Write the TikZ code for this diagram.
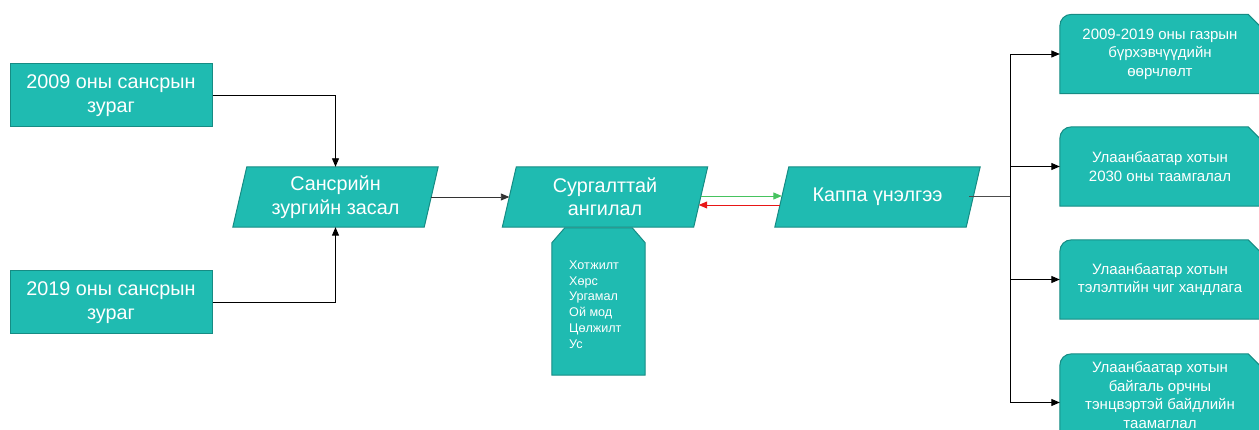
\documentclass[tikz,border=0pt]{standalone}
\usepackage{fontspec}
\setmainfont{Liberation Sans}
\usetikzlibrary{arrows.meta,backgrounds,calc}
\definecolor{tealfill}{RGB}{31,187,177}
\definecolor{tealline}{RGB}{22,140,132}
\definecolor{arrgreen}{RGB}{70,195,95}
\definecolor{arrred}{RGB}{232,22,22}
\begin{document}
\begin{tikzpicture}[x=1pt,y=-1pt,
  txt/.style={text=white, align=center, inner sep=0pt, font=\fontsize{19.8}{23.5}\selectfont},
  rtxt/.style={text=white, align=center, inner sep=0pt, font=\fontsize{15}{18.5}\selectfont},
  listtxt/.style={text=white, align=left, inner sep=0pt, font=\fontsize{12.6}{15.8}\selectfont},
  shapebox/.style={fill=tealfill, draw=tealline, line width=1pt},
  tip/.style={-{Triangle[length=8.5pt,width=7pt]}},
  conn/.style={tip, line width=0.9pt, draw=black},
  gconn/.style={tip, line width=0.9pt, draw=arrgreen, color=arrgreen},
  rconn/.style={tip, line width=0.9pt, draw=arrred, color=arrred},
  trunk/.style={line width=1pt, draw=black!70},
  para/.style={txt, minimum width=191pt, minimum height=60pt},
  rbox/.style={rtxt, minimum width=200pt, minimum height=79pt}
]
\useasboundingbox (0,0) rectangle (1259,430);
\clip (0,0) rectangle (1259,430);

% left boxes
\node[txt, shapebox, minimum width=202pt, minimum height=63pt] (a1) at (111,95.5) {2009 оны сансрын\\зураг};
\node[txt, shapebox, minimum width=202pt, minimum height=63pt] (a2) at (111,302.5) {2019 оны сансрын\\зураг};

% parallelograms
\node[para] (p1) at (335.5,197) {Сансрийн\\зургийн засал};
\node[para] (p2) at (605,197) {Сургалттай\\ангилал};
\node[para] (p3) at (877.5,197) {Каппа үнэлгээ};

% list
\node[minimum width=93pt, minimum height=147pt, inner sep=0pt] (l) at (598.5,301.5) {};
\node[listtxt, anchor=west] (lt) at (569,304.5) {Хотжилт\\Хөрс\\Ургамал\\Ой мод\\Цөлжилт\\Ус};

% right boxes
\node[rbox] (r1) at (1160,54) {2009-2019 оны газрын\\бүрхэвчүүдийн\\өөрчлөлт};
\node[rbox] (r2) at (1160,166.5) {Улаанбаатар хотын\\2030 оны таамгалал};
\node[rbox] (r3) at (1160,279.5) {Улаанбаатар хотын\\тэлэлтийн чиг хандлага};
\node[rtxt, minimum width=200pt, minimum height=82pt] (r4) at (1160,395) {Улаанбаатар хотын\\байгаль орчны\\тэнцвэртэй байдлийн\\таамаглал};

\begin{pgfonlayer}{background}
  \path[shapebox] (l.south west) -- ($(l.north west)+(0,15)$) -- ($(l.north west)+(13,0)$)
     -- ($(l.north east)+(-13,0)$) -- ($(l.north east)+(0,15)$) -- (l.south east) -- cycle;
  \foreach \n in {p1,p2,p3} {
    \path[shapebox] ($(\n.north west)+(7,0)$) -- ($(\n.north east)+(7,0)$)
       -- ($(\n.south east)+(-7,0)$) -- ($(\n.south west)+(-7,0)$) -- cycle;
  }
  \foreach \n in {r1,r2,r3,r4} {
    \path[shapebox] (\n.south west) -- ($(\n.north west)+(0,12)$)
       .. controls ($(\n.north west)+(0,5)$) and ($(\n.north west)+(5,0)$) .. ($(\n.north west)+(12,0)$)
       -- ($(\n.north east)+(-12,0)$) -- ($(\n.north east)+(0,12)$) -- (\n.south east) -- cycle;
  }
\end{pgfonlayer}

% connectors
\draw[conn] (a1.east) -| (p1.north);
\draw[conn] (a2.east) -| (p1.south);
\draw[conn, draw=black!80] (p1.east) -- (p2.west);
\draw[gconn] ([yshift=1pt]p2.east) -- ([yshift=1pt]p3.west);
\draw[rconn] ([xshift=-2pt,yshift=-8pt]p3.west) -- ([xshift=-2pt,yshift=-8pt]p2.east);
\coordinate (j) at (1010,197);
\draw[trunk] ([xshift=-4pt]p3.east) -- (j);
\draw[conn] (j) |- (r1.west);
\draw[conn] (j) |- (r2.west);
\draw[conn] (j) |- (r3.west);
\draw[conn] (j) |- ([yshift=-7.5pt]r4.west);
\end{tikzpicture}
\end{document}
